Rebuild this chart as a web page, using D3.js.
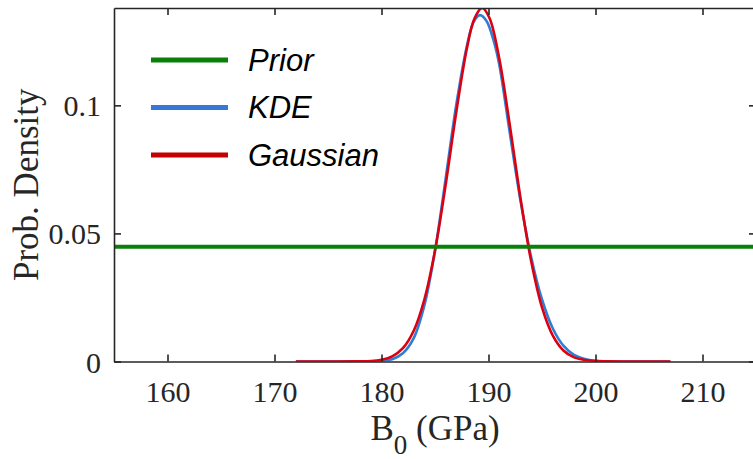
<!DOCTYPE html>
<html>
<head>
<meta charset="utf-8">
<script src="https://cdn.jsdelivr.net/npm/d3@7"></script>
<style>
  body { margin: 0; background: #fff; }
  svg { display: block; }
  .tick-label { font-family: "Liberation Serif", "Times New Roman", serif; font-size: 30px; fill: #262626; }
  .axis-title { font-family: "Liberation Serif", "Times New Roman", serif; font-size: 35px; fill: #262626; }
  .legend-text { font-family: "Liberation Sans", Arial, sans-serif; font-style: italic; font-size: 31px; fill: #000; }
</style>
</head>
<body>
<div id="cont"></div>
<script>

// data
var xTicks = [160, 170, 180, 190, 200, 210];
var yTicks = [0, 0.05, 0.1];
var yTickLabels = ["0", "0.05", "0.1"];

var priorX = [155, 215];
var priorY = [0.0448, 0.0448];

var kdeX = [172, 175, 178, 179, 180, 181, 182, 183, 184, 185, 186, 187, 188, 188.6, 189.2, 189.8, 190.5, 191, 192, 193, 194, 195, 196, 197, 198, 199, 200, 201, 203, 207];
var kdeY = [0, 0, 0.00005, 0.0001, 0.0003, 0.0009, 0.0032, 0.0090, 0.0218, 0.0432, 0.0715, 0.1005, 0.1235, 0.1325, 0.1352, 0.1330, 0.1250, 0.1160, 0.0890, 0.0625, 0.0405, 0.0242, 0.0130, 0.0062, 0.0026, 0.0010, 0.0003, 0.0001, 0, 0];

var gaussX = [172, 175, 178, 179, 180, 181, 182, 183, 184, 185, 186, 187, 188, 188.7, 189.4, 190.1, 191, 192, 193, 194, 195, 196, 197, 198, 199, 200, 201, 203, 207];
var gaussY = [0, 0, 0.00005, 0.0002, 0.0007, 0.0020, 0.0052, 0.0119, 0.0241, 0.0433, 0.0691, 0.0977, 0.1227, 0.1340, 0.1380, 0.1340, 0.1184, 0.0920, 0.0635, 0.0389, 0.0211, 0.0102, 0.0043, 0.0016, 0.0006, 0.0002, 0.00005, 0, 0];

var legendNames = ["Prior", "KDE", "Gaussian"];
var legendColors = ["#0a800a", "#3479d8", "#c40000"];

// dimensions
var totalW = 753, totalH = 459;
var margin = {top: 8, right: -3, bottom: 97.5, left: 114},
    width = totalW - margin.left - margin.right,
    height = totalH - margin.top - margin.bottom;

var x = d3.scaleLinear().domain([155, 215]).range([0, width]);
var y = d3.scaleLinear().domain([0, 0.138]).range([height, 0]);

var svg = d3.select("#cont").append("svg")
    .attr("width", totalW)
    .attr("height", totalH)
  .append("g")
    .attr("transform", "translate(" + margin.left + "," + margin.top + ")");

svg.append("clipPath").attr("id", "clip")
  .append("rect").attr("width", width).attr("height", height);

var line = d3.line()
    .x(function(d) { return x(d[0]); })
    .y(function(d) { return y(d[1]); })
    .curve(d3.curveCatmullRom);

var plot = svg.append("g").attr("clip-path", "url(#clip)");

// KDE
plot.append("path")
    .datum(d3.zip(kdeX, kdeY))
    .attr("d", line)
    .style("fill", "none")
    .style("stroke", "#2e7fd4")
    .style("stroke-width", 2.6);

// Gaussian
plot.append("path")
    .datum(d3.zip(gaussX, gaussY))
    .attr("d", line)
    .style("fill", "none")
    .style("stroke", "#dc0010")
    .style("stroke-width", 2.6);

// Prior
plot.append("path")
    .datum(d3.zip(priorX, priorY))
    .attr("d", line)
    .style("fill", "none")
    .style("stroke", "#0a800a")
    .style("stroke-width", 4);

// axes
var axisColor = "#262626";
var tickLen = 7;

// bottom axis
var xb = svg.append("g")
    .attr("transform", "translate(0," + height + ")")
    .call(d3.axisBottom(x).tickValues(xTicks).tickSizeInner(-tickLen).tickSizeOuter(0).tickPadding(20));
// top axis
var xt = svg.append("g")
    .call(d3.axisTop(x).tickValues(xTicks).tickSizeInner(-tickLen).tickSizeOuter(0).tickFormat(""));
// left axis
var yl = svg.append("g")
    .call(d3.axisLeft(y).tickValues(yTicks).tickSizeInner(-tickLen).tickSizeOuter(0).tickPadding(20)
      .tickFormat(function(d, i) { return yTickLabels[i]; }));
// right axis
var yr = svg.append("g")
    .attr("transform", "translate(" + width + ",0)")
    .call(d3.axisRight(y).tickValues(yTicks).tickSizeInner(-tickLen).tickSizeOuter(0).tickFormat(""));

[xb, xt, yl, yr].forEach(function(a) {
  a.select(".domain").style("stroke", axisColor).style("stroke-width", 1.6);
  a.selectAll(".tick line").style("stroke", axisColor).style("stroke-width", 1.6);
  a.selectAll(".tick text").attr("class", "tick-label").style("font-family", null).style("font-size", null);
});
xb.selectAll(".tick text").attr("dy", "0.71em").attr("y", 19.5);
yl.selectAll(".tick text").attr("x", -13).attr("dy", "0.35em");

// axis titles
var xt2 = svg.append("text")
    .attr("class", "axis-title")
    .attr("x", x(185))
    .attr("y", height + 78.5)
    .attr("text-anchor", "middle");
xt2.append("tspan").text("B");
xt2.append("tspan").attr("dy", 14).style("font-size", "27px").text("0");
xt2.append("tspan").attr("dy", -14).text(" (GPa)");

svg.append("text")
    .attr("class", "axis-title")
    .attr("transform", "translate(" + (38 - margin.left) + "," + (height / 2) + ") rotate(-90)")
    .attr("text-anchor", "middle")
    .text("Prob. Density");

// legend
var legend = svg.append("g")
    .attr("transform", "translate(" + (151 - margin.left) + "," + (60 - margin.top) + ")");

var items = legend.selectAll("g")
    .data(legendNames)
  .enter().append("g")
    .attr("transform", function(d, i) { return "translate(0," + (i * 47.5) + ")"; });

items.append("line")
    .attr("x1", 0).attr("x2", 77)
    .attr("y1", 0).attr("y2", 0)
    .style("stroke", function(d, i) { return legendColors[i]; })
    .style("stroke-width", 5);

items.append("text")
    .attr("class", "legend-text")
    .attr("x", 97)
    .attr("y", 10.5)
    .text(function(d) { return d; });

</script>
</body>
</html>
